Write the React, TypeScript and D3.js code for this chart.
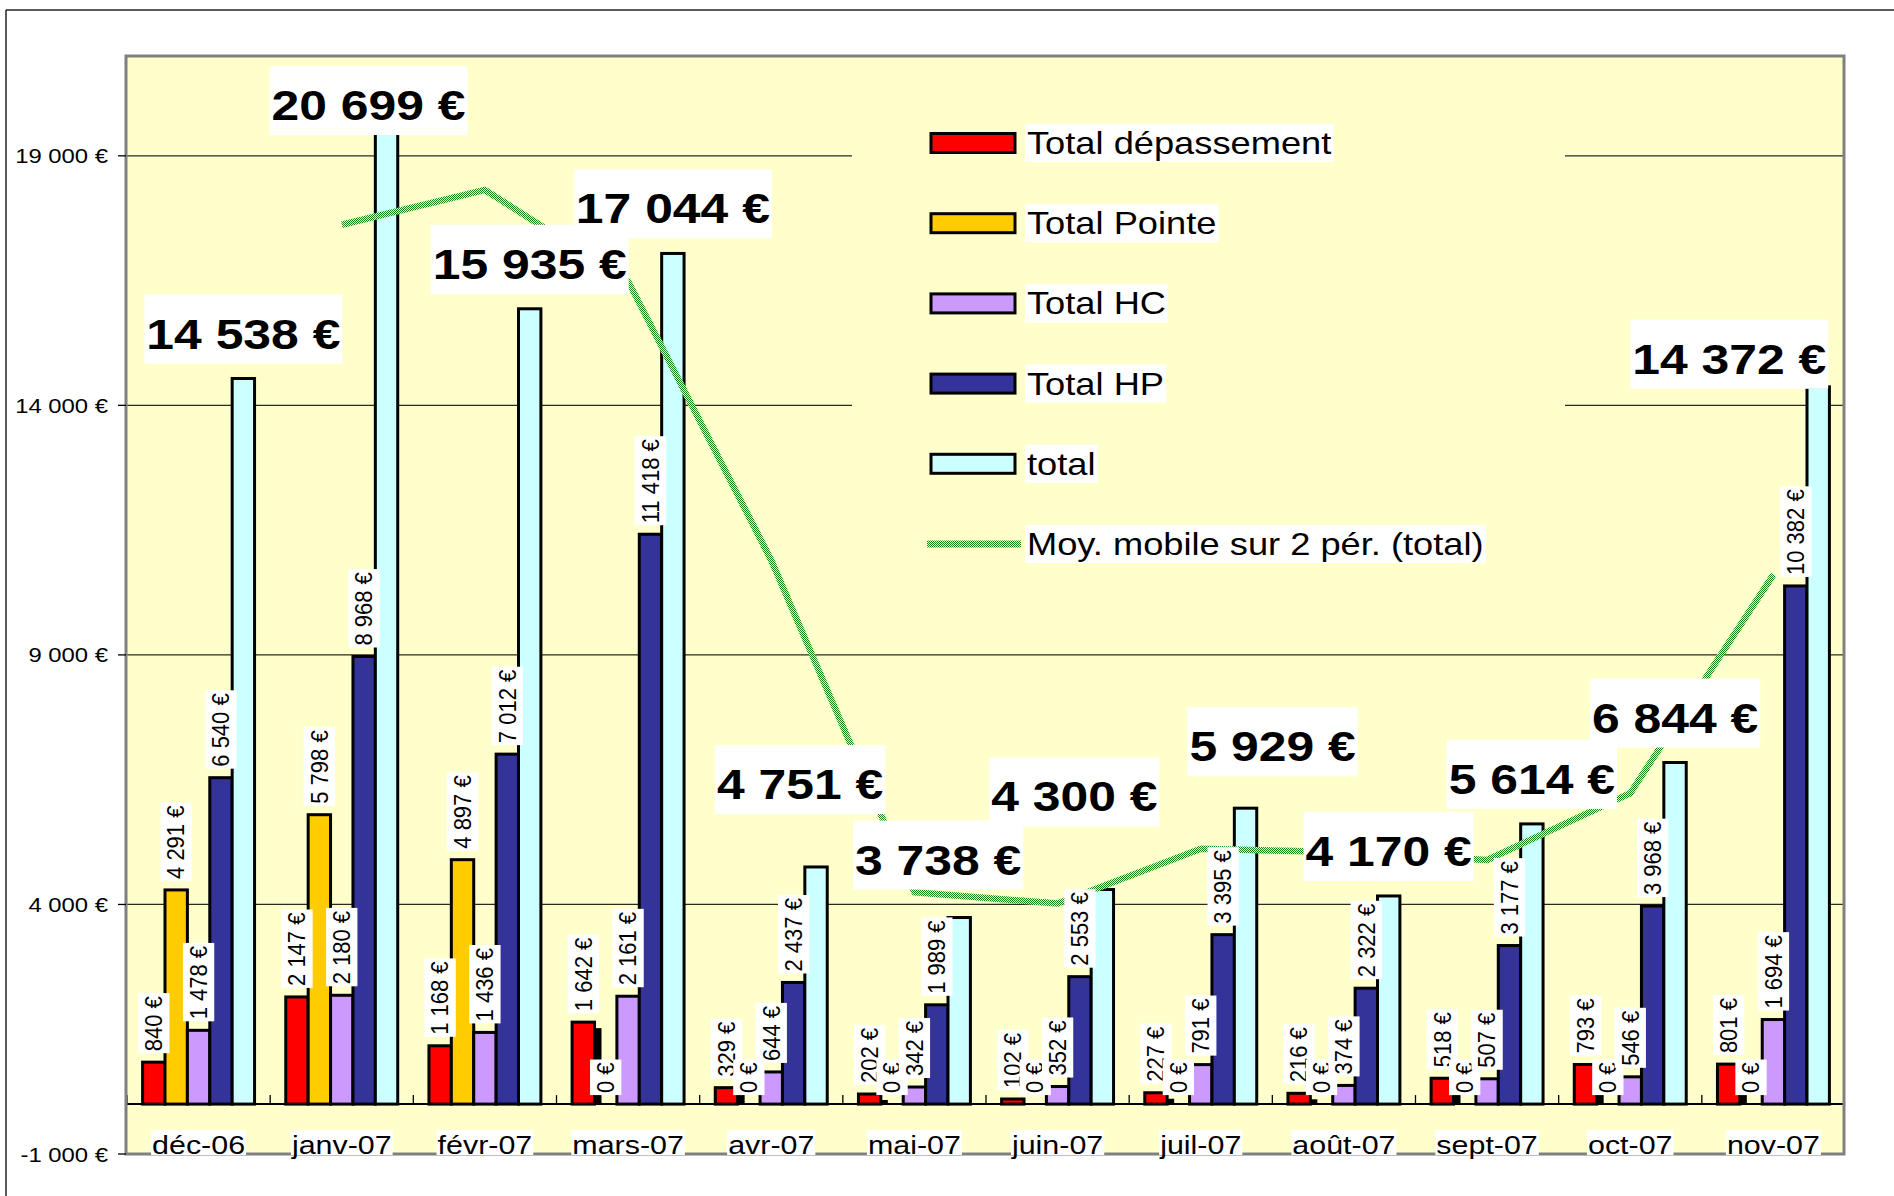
import React from 'react';
import * as d3 from 'd3';

const MONTHS = ['déc-06', 'janv-07', 'févr-07', 'mars-07', 'avr-07', 'mai-07', 'juin-07', 'juil-07', 'août-07', 'sept-07', 'oct-07', 'nov-07'];
const SERIES_NAMES = ['Total dépassement', 'Total Pointe', 'Total HC', 'Total HP', 'total'];
const DEPASSEMENT = [840, 2147, 1168, 1642, 329, 202, 102, 227, 216, 518, 793, 801];
const POINTE = [4291, 5798, 4897, 0, 0, 0, 0, 0, 0, 0, 0, 0];
const HC = [1478, 2180, 1436, 2161, 644, 342, 352, 791, 374, 507, 546, 1694];
const HP = [6540, 8968, 7012, 11418, 2437, 1989, 2553, 3395, 2322, 3177, 3968, 10382];
const TOTAL = [14538, 20699, 15935, 17044, 4751, 3738, 4300, 5929, 4170, 5614, 6844, 14372];
const MOVING_AVG_NAME = 'Moy. mobile sur 2 pér. (total)';
const MOVING_AVG: (number | null)[] = [null, 17618.5, 18317, 16489.5, 10897.5, 4244.5, 4019, 5114.5, 5049.5, 4892, 6229, 10608];
const Y_TICKS = [-1000, 4000, 9000, 14000, 19000];
const Y_DOMAIN = [-1000, 21000];
const COLORS = ['#FF0000', '#FFCC00', '#CC99FF', '#333399', '#CCFFFF'];
// manual nudges of the big "total" labels (pixels, relative to default placement)
const TOTAL_LABEL_SHIFT = [[0, 0], [-18, 79], [0, 0], [0, 0], [-16, -38], [-21, -13], [-28, -48], [27, -17], [0, 0], [0, 0], [0, 0], [-89, 17]];

const W = 1894, H = 1196;
const PL = 127, PT = 56, PR = 1845, PB = 1154;
const SX = 1.17; // horizontal stretch of the text in the reference
const SXR = 1.08; // stretch for rotated labels
const FONT = '"Liberation Sans", Arial, sans-serif';
const PLOT_BG = '#FFFFCC';

let ctx: CanvasRenderingContext2D | null = null;
function measure(text: string, size: number, weight = 'normal') {
  if (!ctx) ctx = document.createElement('canvas').getContext('2d');
  if (!ctx) return text.length * size * 0.55;
  ctx.font = `${weight} ${size}px "Liberation Sans", Arial, sans-serif`;
  return ctx.measureText(text).width;
}

const locale = d3.formatLocale({ decimal: ',', thousands: '\u00a0', grouping: [3], currency: ['', ' €'], minus: '-' });
const fmtNum = locale.format(',.0f');
const fmt = (v: number) => fmtNum(v) + ' €';

export default function App() {
  const seriesValues = [DEPASSEMENT, POINTE, HC, HP, TOTAL];
  const x0 = d3.scaleBand<string>().domain(MONTHS).range([PL, PR]).paddingInner(0).paddingOuter(0);
  const bw = x0.bandwidth();
  const groupW = bw * 0.782;
  const gOff = (bw - groupW) / 2;
  const x1 = d3.scaleBand<string>().domain(SERIES_NAMES).range([0, groupW]);
  const sw = x1.bandwidth();
  const y = d3.scaleLinear().domain(Y_DOMAIN).range([PB, PT]);
  const y0 = y(0);
  const barX = (i: number, s: number) => (x0(MONTHS[i]) as number) + gOff + (x1(SERIES_NAMES[s]) as number);
  const catC = (i: number) => (x0(MONTHS[i]) as number) + bw / 2;

  const line = d3.line<number | null>()
    .defined((d) => d != null)
    .x((_, i) => catC(i))
    .y((d) => y(d as number));

  const legendY = (k: number) => 143 + 80.2 * k;

  return (
    <svg width={W} height={H} style={{ position: 'absolute', left: 0, top: 0, display: 'block', background: '#fff' }} fontFamily={FONT}>
      <defs>
        <pattern id="mavg" width="2" height="2" patternUnits="userSpaceOnUse">
          <rect width="2" height="2" fill="#f2f7e4" />
          <rect width="1" height="1" fill="#108a10" />
          <rect x="1" y="1" width="1" height="1" fill="#108a10" />
        </pattern>
      </defs>
      {/* outer chart border */}
      <line x1={6} y1={10} x2={W} y2={10} stroke="#222" strokeWidth={1.5} />
      <line x1={6} y1={10} x2={6} y2={H} stroke="#222" strokeWidth={1.5} />

      {/* plot background */}
      <rect x={PL} y={PT} width={PR - PL} height={PB - PT} fill={PLOT_BG} />
      {/* gridlines */}
      {Y_TICKS.filter((t) => t > Y_DOMAIN[0]).map((t) => (
        <line key={'g' + t} x1={PL} x2={PR} y1={y(t)} y2={y(t)} stroke="#2a2a20" strokeWidth={1.3} />
      ))}
      {/* legend background (hides gridlines) */}
      <rect x={852} y={92} width={713} height={505} fill={PLOT_BG} />

      {/* bars */}
      {seriesValues.map((vals, s) => (
        <g key={'s' + s}>
          {vals.map((v, i) => {
            if (v === 0) return null;
            const bx = barX(i, s);
            const top = y(v);
            return (
              <g key={i}>
                {s === 0 && (
                  <rect x={bx + sw} y={top + 6} width={7} height={y0 - top - 6} fill="#000" />
                )}
                <rect x={bx} y={top} width={sw} height={y0 - top} fill={COLORS[s]} stroke="#000" strokeWidth={3} />
              </g>
            );
          })}
        </g>
      ))}
      {/* category axis line */}
      <line x1={PL} x2={PR} y1={y0} y2={y0} stroke="#000" strokeWidth={2} />
      {MONTHS.map((m, i) => (
        <line key={'ct' + i} x1={x0(m) as number} x2={x0(m) as number} y1={y0} y2={y0 - 9} stroke="#000" strokeWidth={1.3} />
      ))}

      {/* moving average */}
      <path d={line(MOVING_AVG) || ''} fill="none" stroke="url(#mavg)" strokeWidth={6.5} strokeLinejoin="round" />

      {/* rotated data labels for the four detail series */}
      {seriesValues.slice(0, 4).map((vals, s) => (
        <g key={'l' + s}>
          {vals.map((v, i) => {
            const cx = barX(i, s) + sw / 2;
            const by = y(Math.max(v, 0)) - 11;
            const txt = fmt(v);
            const tw = measure(txt, 22);
            return (
              <g key={i} transform={`translate(${cx},${by}) scale(${SXR},1) rotate(-90)`}>
                <rect x={-2} y={-14.5} width={tw + 5} height={29} fill="#fff" />
                <text x={0} y={0} fontSize={22} dominantBaseline="central" fill="#000">{txt}</text>
              </g>
            );
          })}
        </g>
      ))}

      {/* big total labels */}
      {TOTAL.map((v, i) => {
        const [dx, dy] = TOTAL_LABEL_SHIFT[i];
        const cx = barX(i, 4) + sw / 2 + dx;
        const boxBottom = y(v) - 15 + dy;
        const txt = fmt(v);
        const tw = measure(txt, 42.6, 'bold') * SX;
        return (
          <g key={'t' + i}>
            <rect x={cx - tw / 2 - 2} y={boxBottom - 69} width={tw + 4} height={69} fill="#fff" />
            <text transform={`translate(${cx},${boxBottom - 15}) scale(${SX},1)`} fontSize={42.6} fontWeight="bold" textAnchor="middle" fill="#000">{txt}</text>
          </g>
        );
      })}

      {/* legend */}
      {SERIES_NAMES.map((n, k) => {
        const yc = legendY(k);
        const tw = measure(n, 31) * SX;
        return (
          <g key={'lg' + k}>
            <rect x={931} y={yc - 9.5} width={84} height={19} fill={COLORS[k]} stroke="#000" strokeWidth={3} />
            <rect x={1025} y={yc - 19} width={tw + 4} height={38} fill="#fff" />
            <text transform={`translate(${1027},${yc + 11}) scale(${SX},1)`} fontSize={31} fill="#000">{n}</text>
          </g>
        );
      })}
      {(() => {
        const yc = legendY(5);
        const tw = measure(MOVING_AVG_NAME, 31) * SX;
        return (
          <g>
            <line x1={927} x2={1021} y1={yc} y2={yc} stroke="url(#mavg)" strokeWidth={7} />
            <rect x={1025} y={yc - 19} width={tw + 4} height={38} fill="#fff" />
            <text transform={`translate(${1027},${yc + 11}) scale(${SX},1)`} fontSize={31} fill="#000">{MOVING_AVG_NAME}</text>
          </g>
        );
      })()}

      {/* plot border */}
      <rect x={PL - 1} y={PT} width={PR - PL} height={PB - PT} fill="none" stroke="#808080" strokeWidth={3} />

      {/* y axis ticks & labels */}
      {Y_TICKS.map((t) => (
        <g key={'yt' + t}>
          <line x1={118} x2={PL - 1} y1={y(t)} y2={y(t)} stroke="#000" strokeWidth={1.3} />
          <text transform={`translate(108,${y(t) + 7.5}) scale(${SX},1)`} fontSize={20.4} textAnchor="end" fill="#000">{fmt(t)}</text>
        </g>
      ))}

      {/* category labels */}
      {MONTHS.map((m, i) => {
        const cx = catC(i);
        const tw = measure(m, 26) * SX;
        return (
          <g key={'cl' + i}>
            <rect x={cx - tw / 2 - 1} y={PB - 24} width={tw + 2} height={25} fill="#fff" />
            <text transform={`translate(${cx},${PB}) scale(${SX},1)`} fontSize={26} textAnchor="middle" fill="#000">{m}</text>
          </g>
        );
      })}
    </svg>
  );
}
